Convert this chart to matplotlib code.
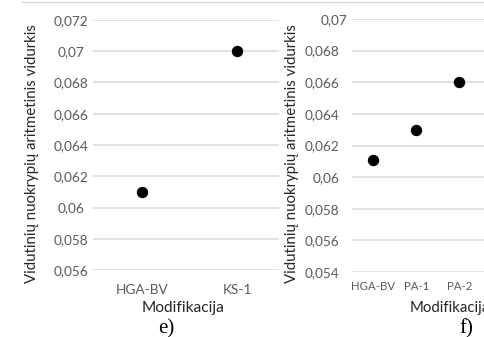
import matplotlib
matplotlib.use("Agg")
import matplotlib.pyplot as plt
from matplotlib.transforms import offset_copy

# Panel e)
cats_e = ["HGA-BV", "KS-1"]
vals_e = [0.061, 0.070]
yticks_e = [0.056, 0.058, 0.060, 0.062, 0.064, 0.066, 0.068, 0.070, 0.072]
ylabels_e = ["0,056", "0,058", "0,06", "0,062", "0,064", "0,066", "0,068", "0,07", "0,072"]

# Panel f)
cats_f = ["HGA-BV", "PA-1", "PA-2"]
vals_f = [0.0611, 0.063, 0.066]
yticks_f = [0.054, 0.056, 0.058, 0.060, 0.062, 0.064, 0.066, 0.068, 0.070]
ylabels_f = ["0,054", "0,056", "0,058", "0,06", "0,062", "0,064", "0,066", "0,068", "0,07"]

ylabel_text = "Vidutinių nuokrypių aritmetinis vidurkis"
xlabel_text = "Modifikacija"

W, H, DPI = 485, 337, 100
fig = plt.figure(figsize=(W / DPI, H / DPI), dpi=DPI)
fig.patch.set_facecolor("white")

FONT = "Lato"
TICK_C = "#595959"
TITLE_C = "#262626"
GRID_C = "#d9d9d9"


def px_rect(x0, y0, x1, y1):
    return [x0 / W, 1 - y1 / H, (x1 - x0) / W, (y1 - y0) / H]


def style(ax, yt, yl, ylim, xlim, fs):
    ax.set_ylim(*ylim)
    ax.set_xlim(*xlim)
    ax.set_yticks(yt)
    ax.set_yticklabels(yl, fontsize=fs, color=TICK_C, family=FONT)
    ax.set_xticks([])
    ax.grid(axis="y", color=GRID_C, linewidth=1.1)
    ax.set_axisbelow(True)
    for s in ax.spines.values():
        s.set_visible(False)
    ax.tick_params(axis="y", length=0)
    ax.set_facecolor("none")


# ---- left panel ----
axL = fig.add_axes(px_rect(93, 20, 279, 270))
style(axL, yticks_e, ylabels_e, (0.056, 0.072), (-0.509, 1.436), 9.8)
axL.tick_params(axis="y", pad=16)
for t in axL.get_yticklabels():
    t.set_ha("center")
axL.plot(range(len(cats_e)), vals_e, "o", color="black", markersize=7.2, clip_on=False)

for i, c in enumerate(cats_e):
    xd = axL.transData.transform((i, 0))[0]
    fig.text(xd / W, 1 - 294 / H, c, ha="center", va="baseline",
             fontsize=9.8, color=TICK_C, family=FONT)

fig.text(183.5 / W, 1 - 312 / H, xlabel_text, ha="center", va="baseline",
         fontsize=11.2, color=TITLE_C, family=FONT)
fig.text(32 / W, 1 - 154 / H, ylabel_text, ha="center", va="center",
         rotation=90, fontsize=10.8, color=TITLE_C, family=FONT)
fig.text(166 / W, 1 - 333 / H, "e)", ha="center", va="baseline",
         fontsize=15, color="black", family="Liberation Serif")

# ---- right panel ----
axR = fig.add_axes(px_rect(352, 19, 490, 272))
style(axR, yticks_f, ylabels_f, (0.054, 0.070), (-0.5, 2.71), 9.8)
axR.tick_params(axis="y", pad=9)
top_lbl = axR.get_yticklabels()[-1]
top_lbl.set_transform(offset_copy(top_lbl.get_transform(), fig=fig, x=8, units="dots"))
axR.plot(range(len(cats_f)), vals_f, "o", color="black", markersize=7.2, clip_on=False)

for i, c in enumerate(cats_f):
    xd = axR.transData.transform((i, 0))[0]
    fig.text(xd / W, 1 - 290 / H, c, ha="center", va="baseline",
             fontsize=8.2, color=TICK_C, family=FONT)

fig.text(410 / W, 1 - 312 / H, xlabel_text, ha="left", va="baseline",
         fontsize=10.8, color=TITLE_C, family=FONT)
fig.text(292 / W, 1 - 154 / H, ylabel_text, ha="center", va="center",
         rotation=90, fontsize=10.8, color=TITLE_C, family=FONT)
fig.text(466 / W, 1 - 333 / H, "f)", ha="center", va="baseline",
         fontsize=15, color="black", family="Liberation Serif")

# thin outer border along the top
fig.add_artist(plt.Line2D([22 / W, 1.0], [1 - 2 / H, 1 - 2 / H],
                          color=GRID_C, linewidth=1.0, transform=fig.transFigure))

fig.savefig("out.png", dpi=DPI)
